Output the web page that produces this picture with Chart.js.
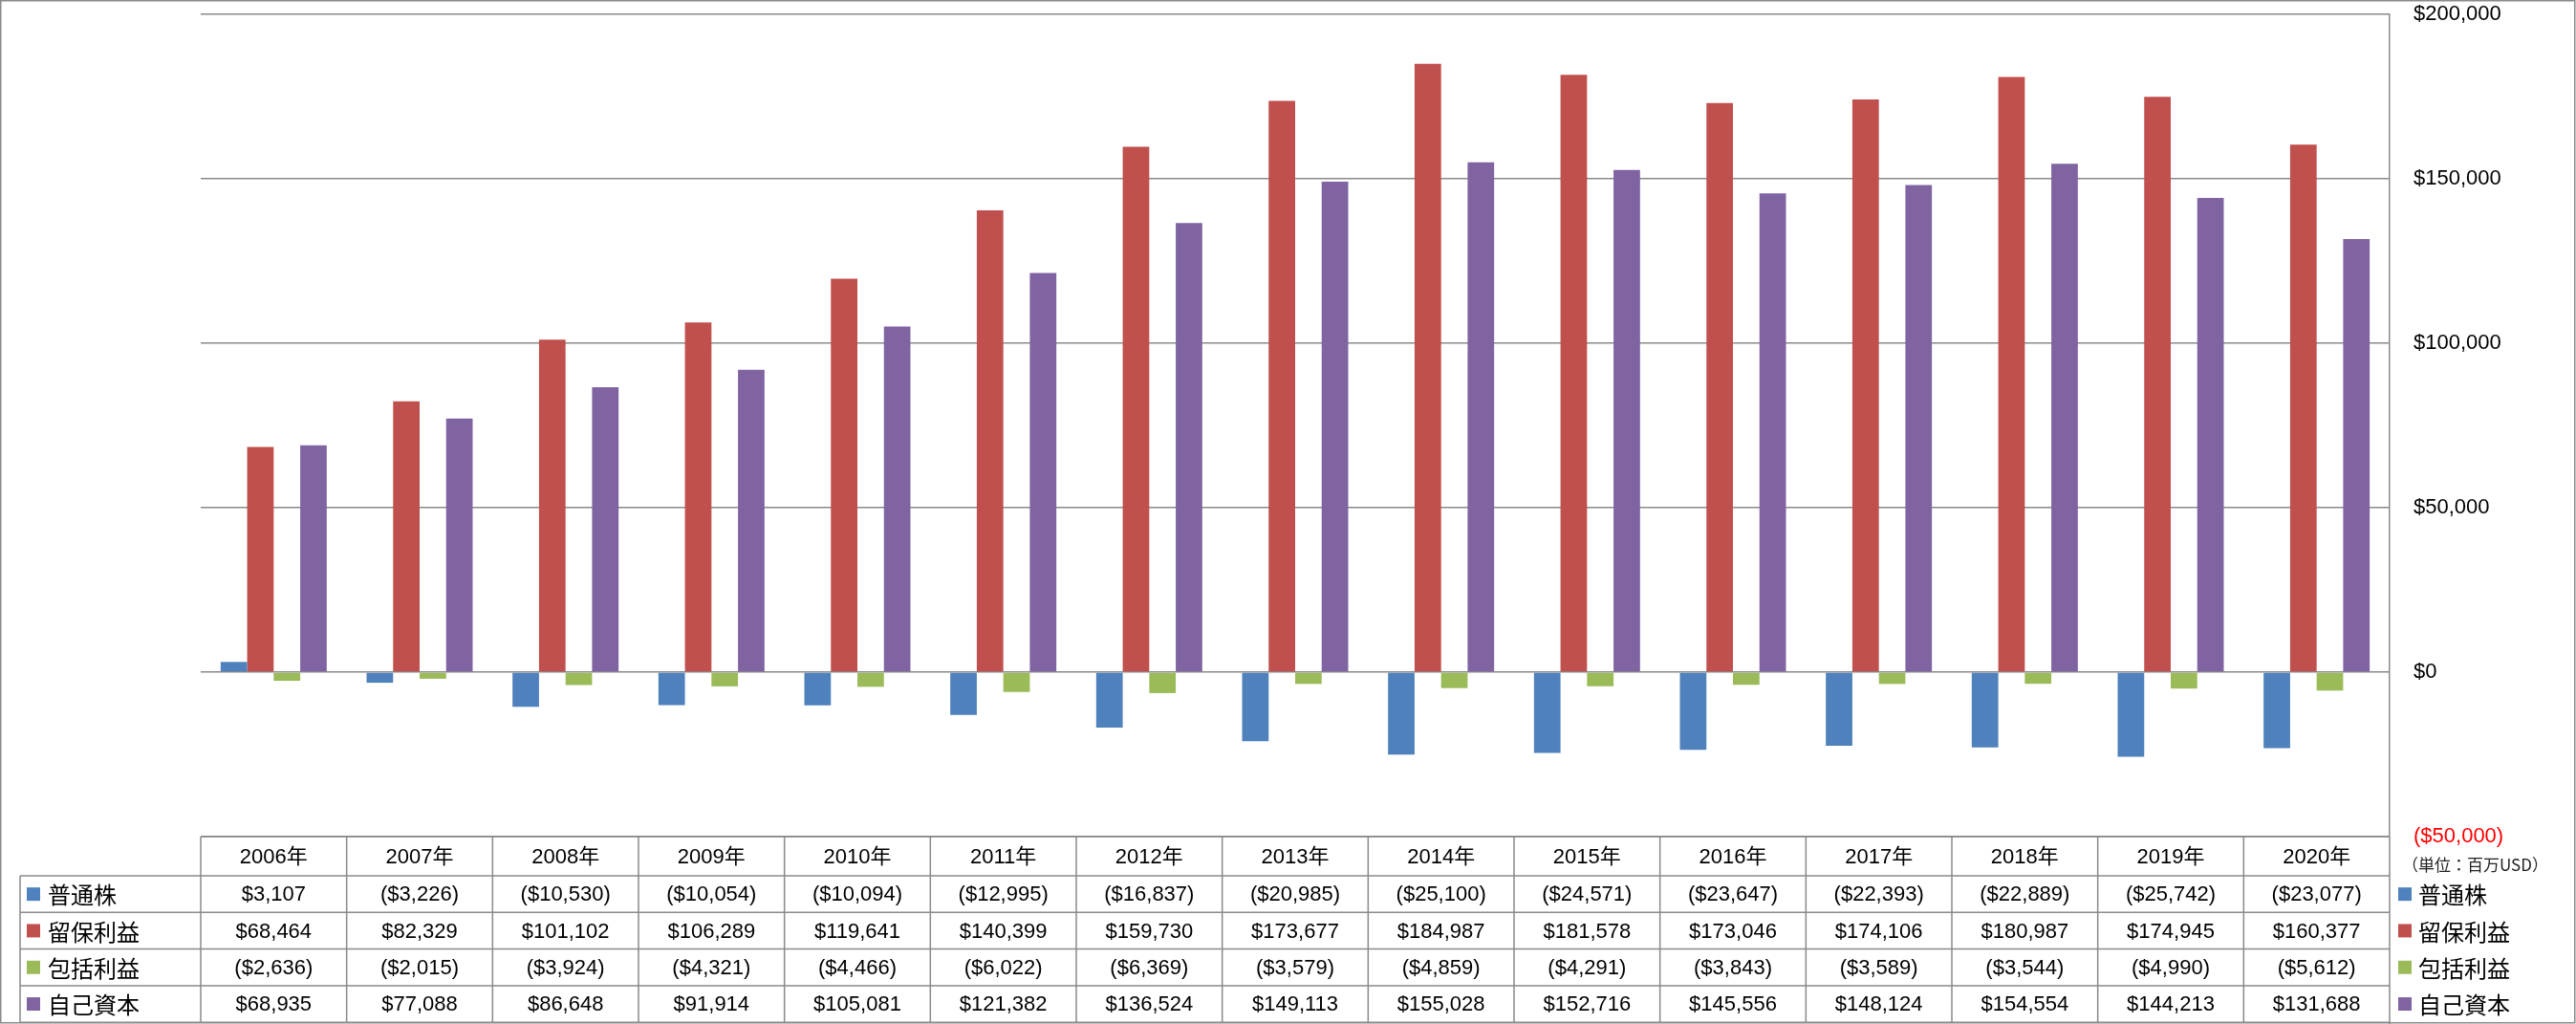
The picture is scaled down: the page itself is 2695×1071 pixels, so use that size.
<!DOCTYPE html>
<html lang="ja">
<head>
<meta charset="UTF-8">
<title>普通株・留保利益・包括利益・自己資本</title>
<script src="https://cdn.jsdelivr.net/npm/chart.js"></script>
<style>
  body { margin: 0; background: #ffffff; }
  canvas { display: block; }
</style>
</head>
<body>
<canvas id="chart" width="2695" height="1071"></canvas>
<script>
// data (単位: 百万USD)
const years = ['2006年', '2007年', '2008年', '2009年', '2010年', '2011年', '2012年', '2013年',
               '2014年', '2015年', '2016年', '2017年', '2018年', '2019年', '2020年'];
const commonStock = [3107, -3226, -10530, -10054, -10094, -12995, -16837, -20985,
                     -25100, -24571, -23647, -22393, -22889, -25742, -23077];
const retainedEarnings = [68464, 82329, 101102, 106289, 119641, 140399, 159730, 173677,
                          184987, 181578, 173046, 174106, 180987, 174945, 160377];
const comprehensiveIncome = [-2636, -2015, -3924, -4321, -4466, -6022, -6369, -3579,
                             -4859, -4291, -3843, -3589, -3544, -4990, -5612];
const totalEquity = [68935, 77088, 86648, 91914, 105081, 121382, 136524, 149113,
                     155028, 152716, 145556, 148124, 154554, 144213, 131688];
const seriesNames = ['普通株', '留保利益', '包括利益', '自己資本'];
const yMin = -50000, yMax = 200000, yStep = 50000;
const unitLabel = '（単位：百万USD）';

const colors = ['#4F81BD', '#C0504D', '#9BBB59', '#8064A2'];
const lineColor = '#8a8a8a';
const numFont = '"Liberation Sans", "Noto Sans CJK JP", sans-serif';
const jpFont = '"Noto Sans CJK JP", sans-serif';

function fmt(v) {
    const s = '$' + Math.abs(v).toLocaleString('en-US');
    return v < 0 ? '(' + s + ')' : s;
}

const allSeries = [commonStock, retainedEarnings, comprehensiveIncome, totalEquity];

// data table under the plot, with legend keys on both sides
const tablePlugin = {
    id: 'dataTable',
    afterDraw(chart) {
        const ctx = chart.ctx;
        const area = chart.chartArea;
        const x = chart.scales.x;
        const n = years.length;
        const colW = (area.right - area.left) / n;
        const top = area.bottom;
        const headH = 41;
        const rowH = 38.3;
        const bottom = top + headH + rowH * 4;
        const legLeft = 21;

        ctx.save();
        ctx.strokeStyle = lineColor;
        ctx.lineWidth = 1.5;

        // outer frame
        ctx.strokeRect(0.75, 0.75, chart.width - 2, chart.height - 2);

        ctx.beginPath();
        // right edge of plot continues down through the table
        ctx.moveTo(area.right, top);
        ctx.lineTo(area.right, chart.height);
        // header row lines
        ctx.moveTo(area.left, top);
        ctx.lineTo(area.right, top);
        // row lines
        for (let r = 0; r <= 4; r++) {
            const y = top + headH + rowH * r;
            ctx.moveTo(legLeft, y);
            ctx.lineTo(area.right, y);
        }
        // columns
        ctx.moveTo(legLeft, top + headH);
        ctx.lineTo(legLeft, bottom);
        for (let i = 0; i < n; i++) {
            const cx = x.getPixelForValue(i) - colW / 2;
            ctx.moveTo(cx, top);
            ctx.lineTo(cx, bottom);
        }
        ctx.stroke();

        ctx.textBaseline = 'middle';
        ctx.textAlign = 'center';
        ctx.fillStyle = '#000';
        ctx.font = '22px ' + numFont;
        years.forEach((yr, i) => {
            ctx.fillText(yr, x.getPixelForValue(i), top + headH / 2 + 1);
        });
        allSeries.forEach((vals, r) => {
            const cy = top + headH + rowH * r + rowH / 2 + 1;
            vals.forEach((v, i) => {
                ctx.fillText(fmt(v), x.getPixelForValue(i), cy);
            });
        });

        // legend keys
        ctx.textAlign = 'left';
        ctx.font = '24px ' + jpFont;
        seriesNames.forEach((name, r) => {
            const cy = top + headH + rowH * r + rowH / 2;
            ctx.fillStyle = colors[r];
            ctx.fillRect(28, cy - 7, 14, 14);
            ctx.fillRect(area.right + 9, cy - 7, 14, 14);
            ctx.fillStyle = '#000';
            ctx.fillText(name, 50, cy + 1);
            ctx.fillText(name, area.right + 30, cy + 1);
        });

        // unit
        ctx.font = '17px ' + jpFont;
        ctx.fillStyle = '#222';
        ctx.fillText(unitLabel, area.right + 13, top + 30);
        ctx.restore();
    }
};

const ctx = document.getElementById('chart').getContext('2d');
const chart = new Chart(ctx, {
    type: 'bar',
    data: {
        labels: years,
        datasets: seriesNames.map((name, i) => ({
            label: name,
            data: allSeries[i],
            backgroundColor: colors[i],
            borderWidth: 0,
            categoryPercentage: 0.727,
            barPercentage: 1.0
        }))
    },
    options: {
        responsive: false,
        animation: false,
        layout: { padding: { left: 210, top: 15, right: 0, bottom: 196 } },
        plugins: {
            legend: { display: false },
            tooltip: { enabled: false }
        },
        scales: {
            x: { display: false },
            y: {
                position: 'right',
                min: yMin,
                max: yMax,
                afterFit(scale) {
                    scale.width = 195;
                    scale.paddingTop = 0;
                    scale.paddingBottom = 0;
                },
                ticks: {
                    stepSize: yStep,
                    padding: 25,
                    font: { family: numFont, size: 22 },
                    color: (c) => c.tick.value < 0 ? '#ff0000' : '#000000',
                    callback: (v) => fmt(v)
                },
                grid: { color: lineColor, lineWidth: 1.5, drawTicks: false },
                border: { display: true, color: lineColor, width: 1.5 }
            }
        }
    },
    plugins: [tablePlugin]
});
</script>
</body>
</html>
